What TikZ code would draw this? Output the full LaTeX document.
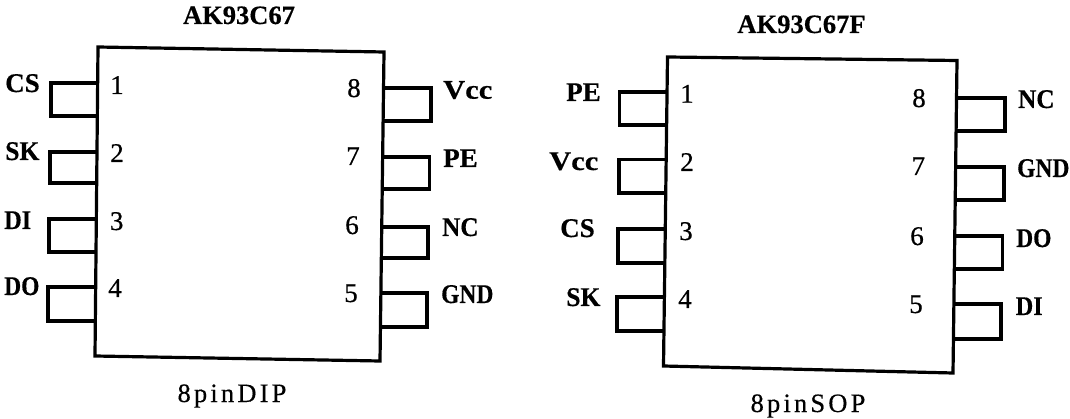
\documentclass[tikz,border=0pt]{standalone}
\usepackage{graphicx}
\usepackage{fontspec}
\setmainfont{Liberation Serif}
\newfontfamily\spacedfont[LetterSpace=12,FakeBold=0.4]{Liberation Serif}
\newfontfamily\numfont[FakeBold=0.6]{Liberation Serif}
\newfontfamily\headfont[FakeBold=0.5]{Liberation Serif Bold}
\tikzset{
  chipbody/.style={draw=black,line width=3.2pt,line join=miter},
  pinline/.style={draw=black,line width=3.2pt,line join=miter},
  pinname/.style={font=\fontsize{27}{27}\selectfont\headfont,inner sep=0pt,anchor=base west},
  pinnum/.style={font=\fontsize{27}{27}\selectfont\numfont,inner sep=0pt,anchor=base},
  titletext/.style={font=\fontsize{26.5}{27}\selectfont\headfont,inner sep=0pt,anchor=base},
  captiontext/.style={font=\fontsize{26.5}{27}\selectfont\spacedfont,inner sep=0pt,anchor=base}
}
% edge x at top, y top, far x, edge x at bottom, y bottom
\newcommand{\pinshape}[5]{\draw[pinline] (#1,#2) -- (#3,#2) -- (#3,#5) -- (#4,#5);}
\newcommand{\wideVcc}{\scalebox{1.13}[1]{Vcc}}
\newcommand{\narrowGND}{\scalebox{0.87}[1]{GND}}
\newcommand{\narrowDO}{\scalebox{0.87}[1]{DO}}
\newcommand{\narrowDI}{\scalebox{0.9}[1]{DI}}
\newcommand{\narrowNC}{\scalebox{0.93}[1]{NC}}
\newcommand{\narrowSK}{\scalebox{0.95}[1]{SK}}
\begin{document}
\begin{tikzpicture}[x=1pt,y=-1pt]
\useasboundingbox (0,0) rectangle (1070,419);
% --- AK93C67 ---
\draw[chipbody] (98,47) -- (384,52) -- (380,361) -- (95,356) -- cycle;
\pinshape{97.6}{83}{51}{97.2}{116}
\pinshape{97}{152}{50}{96.8}{183}
\pinshape{96.4}{219}{49}{96.2}{252}
\pinshape{95.8}{287}{48}{95.5}{321}
\pinshape{383.5}{88}{431}{383.2}{121}
\pinshape{383}{157}{429.5}{382.6}{189}
\pinshape{382.2}{227}{428}{382}{258}
\pinshape{381.5}{293}{427}{381}{327}
\node[titletext] (t1) at (239,24) {AK93C67};
\node[captiontext] (c1) at (232,402) {8pinDIP};
\node[pinname] (a1) at (5,92) {CS};
\node[pinname] (a2) at (5,160) {\narrowSK};
\node[pinname] (a3) at (4,229) {\narrowDI};
\node[pinname] (a4) at (4,295) {\narrowDO};
\node[pinname] (a8) at (443,98.7) {\wideVcc};
\node[pinname] (a7) at (443,167) {PE};
\node[pinname] (a6) at (442,236) {\narrowNC};
\node[pinname] (a5) at (441,303) {\narrowGND};
\node[pinnum] (n1) at (117,94) {1};
\node[pinnum] (n2) at (117,162) {2};
\node[pinnum] (n3) at (116.7,230) {3};
\node[pinnum] (n4) at (115,297) {4};
\node[pinnum] (n8) at (354,97) {8};
\node[pinnum] (n7) at (353,165) {7};
\node[pinnum] (n6) at (352,234) {6};
\node[pinnum] (n5) at (351,302) {5};
% --- AK93C67F ---
\draw[chipbody] (667.5,57) -- (957,60.5) -- (953,373) -- (663.5,366) -- cycle;
\pinshape{667}{92}{619.5}{666.8}{125}
\pinshape{666.4}{159.5}{619}{666.2}{193}
\pinshape{665.6}{229}{618}{665.3}{263}
\pinshape{665}{297}{617}{664.6}{331}
\pinshape{956.6}{98}{1005}{956.2}{131}
\pinshape{955.8}{167}{1004}{955.5}{200}
\pinshape{955}{236}{1002.5}{954.8}{269}
\pinshape{954.3}{304}{1001}{953.8}{339}
\node[titletext] (t2) at (801.5,33) {AK93C67F};
\node[captiontext] (c2) at (808,412) {8pinSOP};
\node[pinname] (b1) at (566,101) {PE};
\node[pinname] (b2) at (549,170) {\wideVcc};
\node[pinname] (b3) at (560,237) {CS};
\node[pinname] (b4) at (566,306) {\narrowSK};
\node[pinname] (b8) at (1018,108) {\narrowNC};
\node[pinname] (b7) at (1017,177) {\narrowGND};
\node[pinname] (b6) at (1016,247) {\narrowDO};
\node[pinname] (b5) at (1015.5,315) {\narrowDI};
\node[pinnum] (m1) at (687,102.7) {1};
\node[pinnum] (m2) at (687,171) {2};
\node[pinnum] (m3) at (686,240) {3};
\node[pinnum] (m4) at (685,308) {4};
\node[pinnum] (m8) at (919,107) {8};
\node[pinnum] (m7) at (918.4,175) {7};
\node[pinnum] (m6) at (917,245) {6};
\node[pinnum] (m5) at (916,313) {5};
\end{tikzpicture}
\end{document}
